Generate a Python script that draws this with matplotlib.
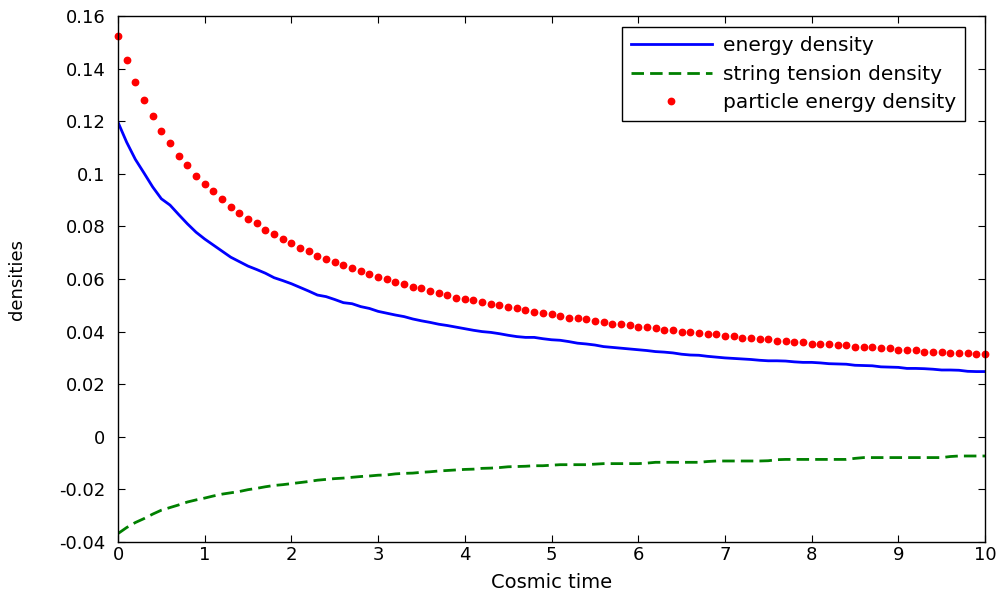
import numpy as np
import matplotlib
matplotlib.use("Agg")
import matplotlib.pyplot as plt

t = [round(0.1 * i, 1) for i in range(101)]

energy_density = [
    0.1196, 0.1120, 0.1055, 0.1003, 0.0950, 0.0905, 0.0881, 0.0845, 0.0810, 0.0778,
    0.0752, 0.0729, 0.0706, 0.0683, 0.0666, 0.0649, 0.0636, 0.0622, 0.0605, 0.0594,
    0.0582, 0.0568, 0.0554, 0.0539, 0.0533, 0.0522, 0.0510, 0.0506, 0.0495, 0.0488,
    0.0477, 0.0470, 0.0463, 0.0457, 0.0448, 0.0441, 0.0435, 0.0428, 0.0423, 0.0417,
    0.0411, 0.0405, 0.0400, 0.0397, 0.0392, 0.0386, 0.0381, 0.0378, 0.0378, 0.0373,
    0.0369, 0.0367, 0.0362, 0.0356, 0.0353, 0.0349, 0.0343, 0.0340, 0.0337, 0.0334,
    0.0331, 0.0328, 0.0324, 0.0322, 0.0319, 0.0314, 0.0311, 0.0310, 0.0306, 0.0303,
    0.0300, 0.0298, 0.0296, 0.0294, 0.0291, 0.0289, 0.0289, 0.0288, 0.0285, 0.0283,
    0.0283, 0.0281, 0.0278, 0.0277, 0.0276, 0.0272, 0.0271, 0.0270, 0.0266, 0.0265,
    0.0264, 0.0260, 0.0260, 0.0259, 0.0257, 0.0254, 0.0254, 0.0253, 0.0249, 0.0248,
    0.0248,
]

string_tension_density = [
    -0.0368, -0.0345, -0.0326, -0.0311, -0.0294, -0.0279, -0.0269, -0.0259, -0.0248, -0.0240,
    -0.0233, -0.0225, -0.0218, -0.0213, -0.0208, -0.0201, -0.0196, -0.0190, -0.0185, -0.0182,
    -0.0178, -0.0174, -0.0170, -0.0165, -0.0162, -0.0159, -0.0157, -0.0154, -0.0151, -0.0149,
    -0.0146, -0.0145, -0.0141, -0.0139, -0.0138, -0.0135, -0.0133, -0.0130, -0.0128, -0.0126,
    -0.0124, -0.0123, -0.0120, -0.0119, -0.0117, -0.0114, -0.0113, -0.0112, -0.0110, -0.0110,
    -0.0108, -0.0106, -0.0106, -0.0106, -0.0106, -0.0104, -0.0102, -0.0102, -0.0102, -0.0102,
    -0.0102, -0.0100, -0.0097, -0.0097, -0.0097, -0.0097, -0.0097, -0.0097, -0.0094, -0.0092,
    -0.0092, -0.0092, -0.0092, -0.0092, -0.0092, -0.0091, -0.0087, -0.0086, -0.0086, -0.0086,
    -0.0086, -0.0086, -0.0086, -0.0086, -0.0086, -0.0082, -0.0079, -0.0079, -0.0079, -0.0079,
    -0.0079, -0.0079, -0.0079, -0.0079, -0.0079, -0.0079, -0.0075, -0.0073, -0.0073, -0.0073,
    -0.0073,
]

particle_energy_density = [
    0.1525, 0.1432, 0.1349, 0.1280, 0.1220, 0.1163, 0.1116, 0.1069, 0.1033, 0.0993,
    0.0962, 0.0935, 0.0904, 0.0875, 0.0852, 0.0828, 0.0812, 0.0787, 0.0771, 0.0752,
    0.0736, 0.0717, 0.0706, 0.0687, 0.0676, 0.0665, 0.0653, 0.0641, 0.0629, 0.0618,
    0.0606, 0.0600, 0.0589, 0.0582, 0.0571, 0.0565, 0.0554, 0.0547, 0.0540, 0.0529,
    0.0524, 0.0519, 0.0511, 0.0506, 0.0501, 0.0495, 0.0489, 0.0482, 0.0476, 0.0472,
    0.0466, 0.0459, 0.0453, 0.0453, 0.0447, 0.0440, 0.0435, 0.0430, 0.0430, 0.0425,
    0.0419, 0.0419, 0.0413, 0.0406, 0.0406, 0.0400, 0.0400, 0.0395, 0.0390, 0.0390,
    0.0383, 0.0383, 0.0377, 0.0377, 0.0372, 0.0372, 0.0365, 0.0365, 0.0360, 0.0360,
    0.0354, 0.0354, 0.0354, 0.0349, 0.0349, 0.0343, 0.0343, 0.0343, 0.0336, 0.0336,
    0.0330, 0.0330, 0.0330, 0.0324, 0.0324, 0.0324, 0.0319, 0.0319, 0.0319, 0.0314,
    0.0314,
]

xticks = [0, 1, 2, 3, 4, 5, 6, 7, 8, 9, 10]
yticks = [-0.04, -0.02, 0, 0.02, 0.04, 0.06, 0.08, 0.1, 0.12, 0.14, 0.16]
ytick_labels = ["-0.04", "-0.02", "0", "0.02", "0.04", "0.06", "0.08", "0.1", "0.12", "0.14", "0.16"]

plt.rcParams['font.family'] = ['DejaVu Sans']

W, H = 1001, 599
fig = plt.figure(figsize=(W / 100, H / 100), dpi=100)
ax = fig.add_axes([118 / W, 57 / H, 867 / W, 526 / H])

ax.plot(t, energy_density, color=(0, 0, 1), lw=2.0, label="energy density")
ax.plot(t, string_tension_density, color=(0, 0.5, 0), lw=2.0, ls=(0, (4.5, 2.2)),
        label="string tension density")
ax.plot(t, particle_energy_density, ls="none", marker="o", ms=4.6, color=(1, 0, 0),
        mec=(1, 0, 0), label="particle energy density", clip_on=False)

ax.set_xlim(0, 10)
ax.set_ylim(-0.04, 0.16)
ax.set_xticks(xticks)
ax.set_yticks(yticks)
ax.set_yticklabels(ytick_labels)
ax.tick_params(direction="in", top=True, right=True, length=5, width=0.8,
               labelsize=13, colors="black")
ax.tick_params(axis="y", pad=9)
ax.tick_params(axis="x", pad=3)
for s in ax.spines.values():
    s.set_linewidth(1.0)

ax.set_xlabel("Cosmic time", fontsize=14, labelpad=6)
ax.set_ylabel("densities", fontsize=13, labelpad=24)

leg = ax.legend(loc="upper right", bbox_to_anchor=(965 / W, (H - 27) / H),
                bbox_transform=fig.transFigure, fontsize=14.5, frameon=True,
                fancybox=False, edgecolor="black", framealpha=1, borderpad=0.45,
                labelspacing=0.48, handlelength=4.0, handletextpad=0.55,
                borderaxespad=0)
leg.get_frame().set_linewidth(1.0)

fig.savefig("out.png", dpi=100)
